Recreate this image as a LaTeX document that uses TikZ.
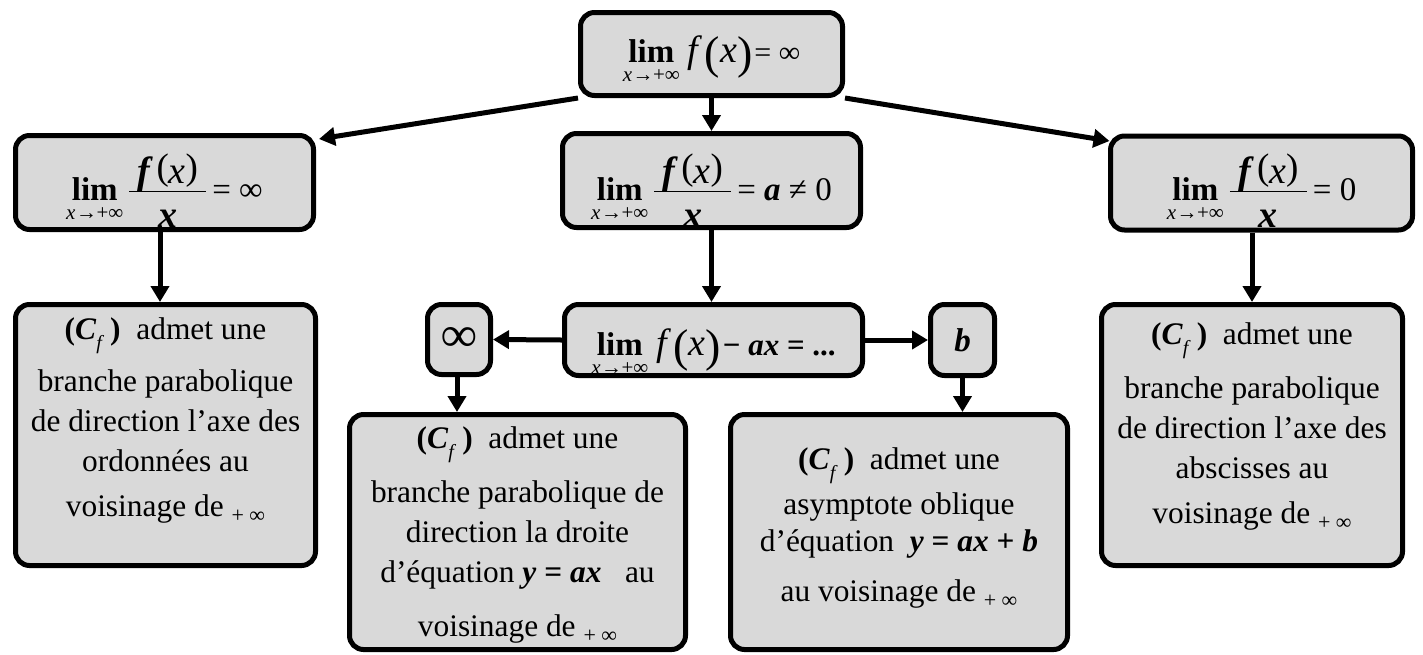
\documentclass[tikz,border=0pt]{standalone}
\usepackage{fontspec}
\setmainfont{Liberation Serif}
\usetikzlibrary{arrows.meta}
\definecolor{boxgray}{RGB}{217,217,217}
\newcommand{\bigpar}[1]{\raisebox{-3pt}{\fontsize{23}{23}\selectfont #1}}
\newcommand{\numpar}[1]{\raisebox{2pt}{\fontsize{18.5}{18.5}\selectfont #1}}
% lim with subscript below, baseline = baseline of "lim"
\newcommand{\limx}{\begin{tabular}[t]{@{}c@{}}\fontsize{16.5}{16.5}\selectfont\bfseries lim\\[-10.5pt]
  \fontsize{10.5}{10.5}\selectfont\itshape x\upshape\kern0.3pt→\kern-0.3pt+∞\end{tabular}}
\newcommand{\fx}{{\fontsize{19}{19}\selectfont\textit{f}\kern1pt\bigpar{(}\textit{x}\bigpar{)}}}
% hand-made fraction f(x)/x: bar 4pt above baseline
\newcommand{\fracfx}{\makebox[38.5pt]{%
  \rlap{\raisebox{8.5pt}{\makebox[38.5pt]{\fontsize{19}{19}\selectfont\textbf{\textit{f}}\kern1.5pt\numpar{(}\textit{x}\numpar{)}}}}%
  \rlap{\raisebox{4pt}{\rule{38.5pt}{0.6pt}}}%
  \raisebox{-13.5pt}{\makebox[38.5pt]{\fontsize{19}{19}\selectfont\textbf{\textit{x}}}}}}
\newcommand{\Cf}{\textbf{(}\textbf{\textit{C}}\raisebox{-5pt}{\fontsize{10}{10}\selectfont\textit{f}}\kern3pt\textbf{)}}
\newcommand{\pinf}{\raisebox{-3pt}{\fontsize{11}{11}\selectfont + ∞}}
\tikzset{
  every node/.style={font=\fontsize{15.7}{20}\selectfont},
  box/.style={draw, line width=2.5pt, rounded corners=7pt, fill=boxgray, inner sep=0pt, align=center},
  arr/.style={line width=2.5pt, -{Triangle[length=8pt,width=9pt]}}
}
\begin{document}
\begin{tikzpicture}[x=0.5pt,y=-0.5pt]
\useasboundingbox (0,0) rectangle (1423,654);
% level 1
\node[box, minimum width=131pt, minimum height=41.5pt, text height=16pt, text depth=8pt] (top) at (711.5,54)
  {\limx\kern4pt\fx{\fontsize{15}{15}\selectfont\kern1pt= ∞}};
% level 2
\node[box, minimum width=149pt, minimum height=47pt, text height=25.5pt, text depth=8pt] (L2) at (164.5,182.5)
  {\limx\kern3pt\fracfx{\fontsize{16.5}{16.5}\selectfont\kern3pt= ∞}};
\node[box, minimum width=149pt, minimum height=47pt, text height=27pt, text depth=7.5pt] (M2) at (711.5,180.5)
  {\limx\kern3pt\fracfx{\fontsize{16.5}{16.5}\selectfont\kern3pt= \textbf{\textit{a}} ≠ 0}};
\node[box, minimum width=151pt, minimum height=47pt, text height=25pt, text depth=8pt] (R2) at (1261.5,183)
  {\limx\kern3pt\fracfx{\fontsize{16.5}{16.5}\selectfont\kern3pt= 0}};
% level 3
\node[box, minimum width=150pt, minimum height=130.5pt] (LB) at (165.5,435)
  {\parbox[c][125pt][t]{145pt}{\centering\vspace*{4pt}\Cf\ \ admet une\\[6pt]
   branche parabolique\\ de direction l’axe des\\ ordonnées au\\[2.5pt] voisinage de \pinf}};
\node[box, minimum width=150.5pt, minimum height=130.5pt] (RB) at (1252,435)
  {\parbox[c][125pt][t]{145pt}{\centering\vspace*{6.5pt}\Cf\ \ admet une\\[7pt]
   branche parabolique\\ de direction l’axe des\\ abscisses au\\[2.5pt] voisinage de \pinf}};
\node[box, minimum width=149pt, minimum height=35.5pt, text height=22pt, text depth=7pt] (M3) at (713.5,340)
  {\limx\kern4pt\fx{\fontsize{15.5}{15.5}\selectfont\bfseries\kern1pt− \textit{ax} = ...}};
\node[box, minimum width=31.5pt, minimum height=35pt] (INF) at (459,339.5)
  {\fontsize{25}{25}\selectfont\bfseries ∞};
\node[box, minimum width=32pt, minimum height=35.5pt] (B) at (962.5,340)
  {\fontsize{16.5}{16.5}\selectfont\textbf{\textit{b}}};
% level 4
\node[box, minimum width=168pt, minimum height=117.5pt] (MB1) at (517.5,532)
  {\parbox[c][113pt][t]{164pt}{\centering\vspace*{4pt}\Cf\ \ admet une\\[7pt]
   branche parabolique de\\ direction la droite\\ d’équation \textbf{\textit{y} = \textit{ax}}\ \ \ au\\[7pt] voisinage de \pinf}};
\node[box, minimum width=168.5pt, minimum height=117.5pt] (MB2) at (899,532)
  {\parbox[c][113pt][t]{164pt}{\centering\vspace*{14.5pt}\Cf\ \ admet une\\[2.5pt]
   asymptote oblique\\[-1.5pt] d’équation\ \ \textbf{\textit{y} = \textit{ax} + \textit{b}}\\[5pt] au voisinage de \pinf}};
% connectors
\draw[arr] (top.south west) -- ([shift={(1.5pt,-3pt)}]L2.north east);
\draw[arr] (top.south east) -- ([shift={(0.75pt,-3.75pt)}]R2.north west);
\draw[arr] (top.south) -- (M2.north);
\draw[arr] ([xshift=-2.25pt]L2.south) -- ([xshift=-2.25pt]L2.south |- LB.north);
\draw[arr] (M2.south) -- (M2.south |- M3.north);
\draw[arr] (RB.north |- R2.south) -- (RB.north);
\draw[arr] (M3.west) -- (INF.east);
\draw[arr] (M3.east) -- (B.west);
\draw[arr] ([xshift=-1pt]INF.south) -- ([xshift=-1pt]INF.south |- MB1.north);
\draw[arr] (B.south) -- (B.south |- MB2.north);
\end{tikzpicture}
\end{document}
